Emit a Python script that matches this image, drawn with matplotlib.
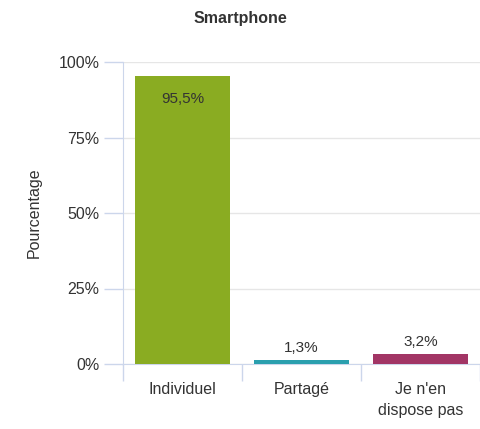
import matplotlib.pyplot as plt
import numpy as np

categories = ["Individuel", "Partagé", "Je n'en\ndispose pas"]
values = [95.5, 1.3, 3.2]
labels = ["95,5%", "1,3%", "3,2%"]
colors = ["#8aac22", "#2a9fae", "#a23565"]
yticks = [0, 25, 50, 75, 100]

plt.rcParams['font.family'] = ['Liberation Sans', 'DejaVu Sans']

fig = plt.figure(figsize=(4.81, 4.29), dpi=100)
ax = fig.add_axes([123 / 481, 1 - 364 / 429, 357 / 481, 302 / 429])

x = np.arange(len(categories))
bars = ax.bar(x, values, width=0.8, color=colors, zorder=3)

for i, (v, lab) in enumerate(zip(values, labels)):
    if v > 50:
        ax.annotate(lab, (x[i], v), xytext=(0, -17), textcoords="offset points",
                    ha="center", va="center", fontsize=11, color="#333333", zorder=4)
    else:
        ax.annotate(lab, (x[i], v), xytext=(0, 9), textcoords="offset points",
                    ha="center", va="center", fontsize=11, color="#333333", zorder=4)

ax.set_xlim(-0.5, 2.5)
ax.set_ylim(0, 100)
ax.set_yticks(yticks)
ax.set_yticklabels([f"{t}%" for t in yticks], fontsize=11.5, color="#333333")
ax.set_xticks(x)
ax.set_xticklabels(categories, fontsize=11.5, color="#333333", linespacing=1.5)
ax.set_xticks([-0.5, 0.5, 1.5, 2.5], minor=True)
ax.tick_params(axis="x", which="major", length=0, pad=13)
ax.tick_params(axis="x", which="minor", length=12, color="#ccd6eb", width=1)
ax.tick_params(axis="y", length=14, color="#ccd6eb", width=1, pad=3)

ax.grid(axis="y", color="#e6e6e6", linewidth=1, zorder=0)
for s in ["top", "right"]:
    ax.spines[s].set_visible(False)
ax.spines["left"].set_color("#ccd6eb")
ax.spines["bottom"].set_color("#ccd6eb")

ax.set_ylabel("Pourcentage", fontsize=11.5, color="#333333", labelpad=12)
fig.text(0.5, 1 - 18 / 429, "Smartphone", ha="center", va="center",
         fontsize=11.5, fontweight="bold", color="#333333")

fig.savefig("out.png", dpi=100)
